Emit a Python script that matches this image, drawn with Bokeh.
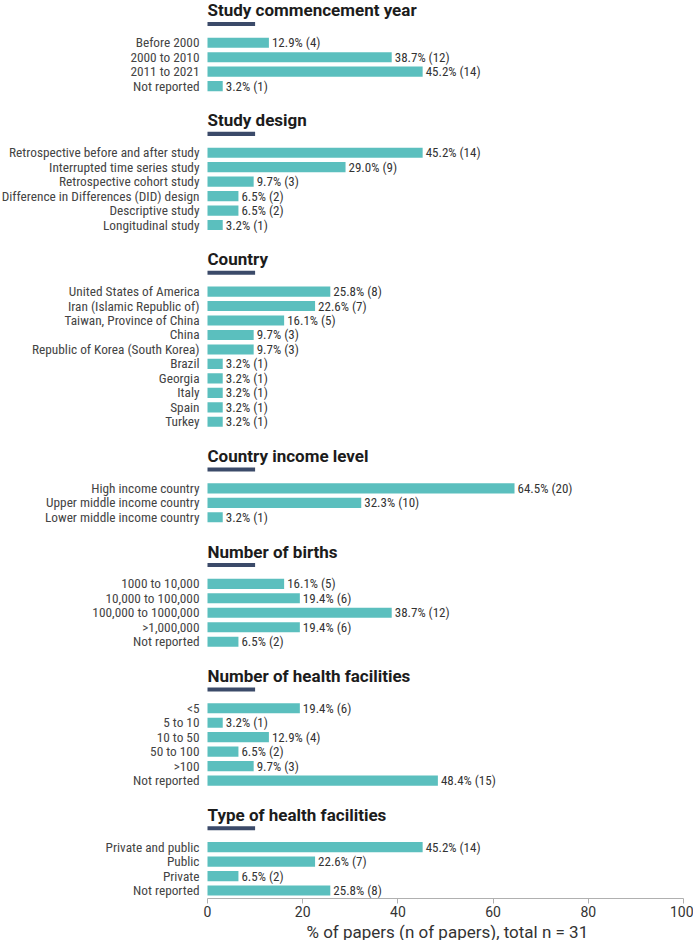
from bokeh.plotting import figure
from bokeh.models import ColumnDataSource, Range1d, FixedTicker, Title
from bokeh.core.properties import value
from bokeh.embed import file_html
from bokeh.resources import INLINE

# ---- data -------------------------------------------------------------
titles = [
    "Study commencement year",
    "Study design",
    "Country",
    "Country income level",
    "Number of births",
    "Number of health facilities",
    "Type of health facilities",
]

year_cats = ["Before 2000", "2000 to 2010", "2011 to 2021", "Not reported"]
year_pct = [12.9, 38.7, 45.2, 3.2]
year_n = [4, 12, 14, 1]

design_cats = [
    "Retrospective before and after study",
    "Interrupted time series study",
    "Retrospective cohort study",
    "Difference in Differences (DID) design",
    "Descriptive study",
    "Longitudinal study",
]
design_pct = [45.2, 29.0, 9.7, 6.5, 6.5, 3.2]
design_n = [14, 9, 3, 2, 2, 1]

country_cats = [
    "United States of America",
    "Iran (Islamic Republic of)",
    "Taiwan, Province of China",
    "China",
    "Republic of Korea (South Korea)",
    "Brazil",
    "Georgia",
    "Italy",
    "Spain",
    "Turkey",
]
country_pct = [25.8, 22.6, 16.1, 9.7, 9.7, 3.2, 3.2, 3.2, 3.2, 3.2]
country_n = [8, 7, 5, 3, 3, 1, 1, 1, 1, 1]

income_cats = ["High income country", "Upper middle income country", "Lower middle income country"]
income_pct = [64.5, 32.3, 3.2]
income_n = [20, 10, 1]

births_cats = ["1000 to 10,000", "10,000 to 100,000", "100,000 to 1000,000", ">1,000,000", "Not reported"]
births_pct = [16.1, 19.4, 38.7, 19.4, 6.5]
births_n = [5, 6, 12, 6, 2]

nfac_cats = ["<5", "5 to 10", "10 to 50", "50 to 100", ">100", "Not reported"]
nfac_pct = [19.4, 3.2, 12.9, 6.5, 9.7, 48.4]
nfac_n = [6, 1, 4, 2, 3, 15]

ftype_cats = ["Private and public", "Public", "Private", "Not reported"]
ftype_pct = [45.2, 22.6, 6.5, 25.8]
ftype_n = [14, 7, 2, 8]

x_ticks = [0, 20, 40, 60, 80, 100]
x_label = "% of papers (n of papers), total n = 31"

sections = [
    (year_cats, year_pct, year_n),
    (design_cats, design_pct, design_n),
    (country_cats, country_pct, country_n),
    (income_cats, income_pct, income_n),
    (births_cats, births_pct, births_n),
    (nfac_cats, nfac_pct, nfac_n),
    (ftype_cats, ftype_pct, ftype_n),
]

# ---- vertical layout (row units, increasing downward) ------------------
ROW = 10      # distance between bars
GAP = 23      # heading -> first bar, last bar -> next heading
RULE = 10     # heading -> short rule below it

title_y, bar_y, bar_cat, bar_pct, bar_lab = [], [], [], [], []
cursor = 0
for cats, pct, n in sections:
    title_y.append(cursor)
    first = cursor + GAP
    for i, (c, v, k) in enumerate(zip(cats, pct, n)):
        bar_y.append(first + i * ROW)
        bar_cat.append(c)
        bar_pct.append(v)
        bar_lab.append(f"{v:.1f}% ({k})")
    cursor = bar_y[-1] + GAP

bars = ColumnDataSource(dict(y=bar_y, pct=bar_pct, cat=bar_cat, lab=bar_lab))
heads = ColumnDataSource(dict(y=title_y, text=titles, rule=[t + RULE for t in title_y]))

# ---- horizontal layout: the 0-100 scale occupies 476 px, starting 207 px in
W, H = 693, 898
LEFT_PX, SCALE_PX = 207, 476
px = 100 / SCALE_PX
x_start = -LEFT_PX * px
x_end = x_start + W * px

TEAL = "#5bbfbe"
NAVY = "#3b4a69"
COND = "Roboto Condensed"

p = figure(
    frame_width=W, frame_height=H,
    x_range=Range1d(x_start, x_end),
    y_range=Range1d(bar_y[-1] + 5.5, -6.2),
    y_axis_location=None,
    output_backend="svg", toolbar_location=None,
    min_border_left=0, min_border_right=0,
    min_border_top=0, min_border_bottom=42,
)
p.outline_line_color = None
p.xgrid.visible = False
p.ygrid.visible = False

p.hbar(y="y", left=0, right="pct", height=7, fill_color=TEAL, line_color=None, source=bars)
p.text(x="pct", y="y", text="lab", x_offset=3, text_baseline="middle",
       text_font=value(COND), text_font_size="13px", text_color="#333333", source=bars)
p.text(x=0, y="y", text="cat", x_offset=-8, text_align="right", text_baseline="middle",
       text_font=value(COND), text_font_size="13.3px", text_color="#444444", source=bars)

p.text(x=0, y="y", text="text", y_offset=1, text_baseline="middle", text_font=value("Roboto"),
       text_font_style="bold", text_font_size="17px", text_color="#1c1c1c", source=heads)
p.hbar(y="rule", left=0, right=10, height=2.8, fill_color=NAVY, line_color=None, source=heads)

ax = p.xaxis[0]
ax.ticker = FixedTicker(ticks=x_ticks)
ax.bounds = (x_ticks[0], x_ticks[-1])
ax.axis_line_color = "#b0b0b0"
ax.major_tick_line_color = "#b0b0b0"
ax.major_tick_out = 5
ax.major_tick_in = 0
ax.minor_tick_line_color = None
ax.major_label_standoff = 2
ax.major_label_text_font = "Roboto"
ax.major_label_text_font_size = "14px"
ax.major_label_text_color = "#333333"

# axis caption, centred under the 0-100 scale rather than the whole frame
p.add_layout(Title(text=x_label, align="left", offset=306, standoff=0,
                   text_font="Roboto", text_font_size="17px", text_font_style="normal",
                   text_color="#333333"), "below")

open("out.html", "w").write(file_html(p, INLINE))
